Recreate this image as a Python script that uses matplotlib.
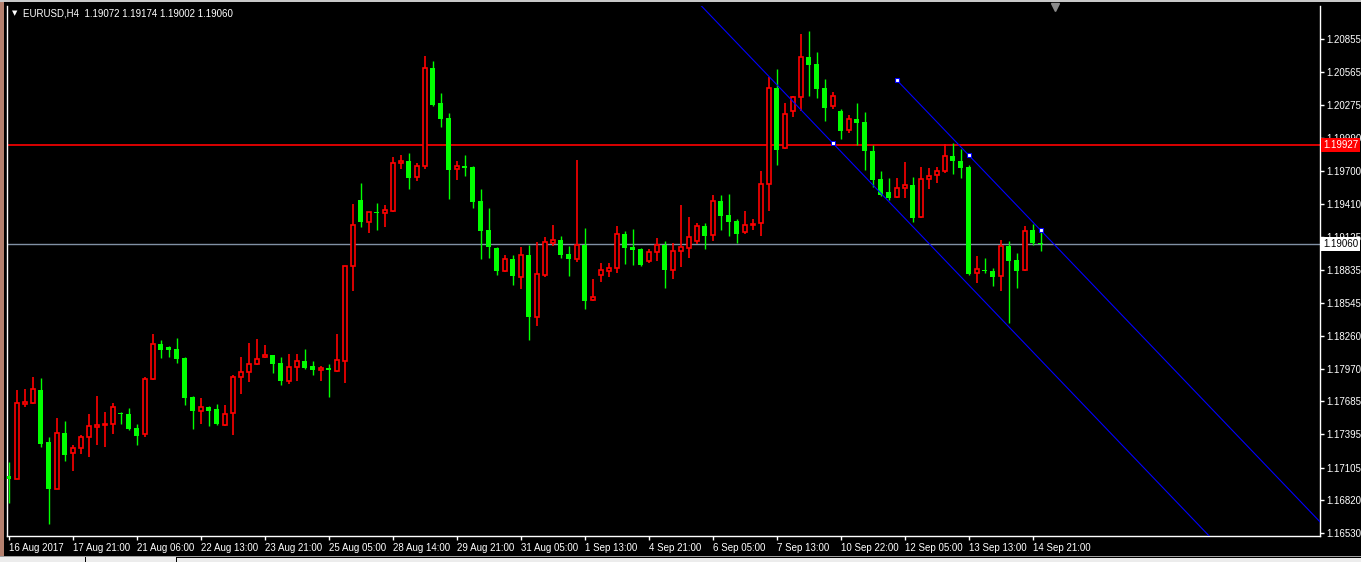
import numpy as np
import matplotlib.pyplot as plt
from matplotlib.patches import Rectangle

# EURUSD H4 candles (open, high, low, close)
opens = [1.17031, 1.17008, 1.17659, 1.17673, 1.17784, 1.17329, 1.16920, 1.17408, 1.17230, 1.17274,
         1.17370, 1.17463, 1.17475, 1.17484, 1.17583, 1.17574, 1.17449, 1.17396, 1.17877, 1.18184,
         1.18157, 1.18143, 1.18064, 1.17723, 1.17603, 1.17635, 1.17615, 1.17480, 1.17580, 1.17895,
         1.17939, 1.18009, 1.18070, 1.18087, 1.18020, 1.17865, 1.17982, 1.18037, 1.17994, 1.17959,
         1.17976, 1.17953, 1.18040, 1.18866, 1.19446, 1.19256, 1.19341, 1.19330, 1.19350, 1.19767,
         1.19788, 1.19645, 1.19741, 1.20599, 1.20295, 1.20161, 1.19720, 1.19741, 1.19735, 1.19437,
         1.19184, 1.19026, 1.18828, 1.18930, 1.18775, 1.18962, 1.18425, 1.18787, 1.19073, 1.19094,
         1.18971, 1.18927, 1.19053, 1.18569, 1.18787, 1.18828, 1.18849, 1.19149, 1.19035, 1.19017,
         1.18910, 1.18989, 1.19053, 1.18836, 1.18997, 1.19024, 1.19090, 1.19219, 1.19137, 1.19437,
         1.19315, 1.19262, 1.19166, 1.19225, 1.19242, 1.19584, 1.20426, 1.19899, 1.20222, 1.20345,
         1.20698, 1.20636, 1.20426, 1.20266, 1.20225, 1.20056, 1.20155, 1.20129, 1.19875, 1.19630,
         1.19516, 1.19470, 1.19549, 1.19577, 1.19295, 1.19627, 1.19662, 1.19697, 1.19831, 1.19788,
         1.19735, 1.18805, 1.18834, 1.18825, 1.18779, 1.19041, 1.18921, 1.18831, 1.19184, 1.19072]
highs = [1.17154, 1.17784, 1.17793, 1.17898, 1.17889, 1.17373, 1.17539, 1.17513, 1.17302, 1.17390,
         1.17574, 1.17731, 1.17591, 1.17670, 1.17594, 1.17626, 1.17486, 1.17898, 1.18274, 1.18221,
         1.18169, 1.18239, 1.18073, 1.17727, 1.17714, 1.17644, 1.17661, 1.17653, 1.17912, 1.18073,
         1.18195, 1.18230, 1.18177, 1.18090, 1.18073, 1.18099, 1.18099, 1.18143, 1.18037, 1.17994,
         1.18011, 1.18274, 1.18869, 1.19411, 1.19595, 1.19341, 1.19420, 1.19400, 1.19825, 1.19840,
         1.19855, 1.19767, 1.20706, 1.20663, 1.20383, 1.20205, 1.19785, 1.19837, 1.19741, 1.19540,
         1.19376, 1.19035, 1.18962, 1.18962, 1.19032, 1.19053, 1.19076, 1.19120, 1.19225, 1.19129,
         1.19044, 1.19796, 1.19201, 1.18755, 1.18892, 1.18892, 1.19219, 1.19172, 1.19190, 1.19026,
         1.19015, 1.19114, 1.19085, 1.19067, 1.19400, 1.19297, 1.19245, 1.19245, 1.19487, 1.19487,
         1.19499, 1.19277, 1.19350, 1.19280, 1.19700, 1.20522, 1.20592, 1.20295, 1.20356, 1.20899,
         1.20925, 1.20741, 1.20505, 1.20391, 1.20240, 1.20190, 1.20295, 1.20216, 1.19928, 1.19700,
         1.19639, 1.19639, 1.19779, 1.19647, 1.19735, 1.19726, 1.19735, 1.19934, 1.19945, 1.19893,
         1.19750, 1.18954, 1.18939, 1.18854, 1.19096, 1.19088, 1.18983, 1.19219, 1.19236, 1.19174]
lows = [1.16795, 1.17002, 1.17638, 1.17659, 1.17288, 1.16614, 1.16915, 1.17165, 1.17078, 1.17226,
        1.17200, 1.17305, 1.17288, 1.17401, 1.17489, 1.17434, 1.17305, 1.17370, 1.17871, 1.18066,
        1.18075, 1.18023, 1.17655, 1.17443, 1.17489, 1.17471, 1.17478, 1.17471, 1.17393, 1.17751,
        1.17856, 1.18005, 1.18066, 1.17935, 1.17830, 1.17836, 1.17865, 1.17970, 1.17915, 1.17865,
        1.17725, 1.17944, 1.17848, 1.18653, 1.19213, 1.19160, 1.19184, 1.19213, 1.19344, 1.19720,
        1.19545, 1.19615, 1.19715, 1.20269, 1.20088, 1.19458, 1.19624, 1.19659, 1.19379, 1.18933,
        1.18941, 1.18793, 1.18819, 1.18705, 1.18665, 1.18224, 1.18346, 1.18773, 1.19044, 1.18941,
        1.18784, 1.18906, 1.18495, 1.18563, 1.18731, 1.18773, 1.18810, 1.18889, 1.18878, 1.18873,
        1.18892, 1.18915, 1.18679, 1.18755, 1.18863, 1.18941, 1.19064, 1.19017, 1.19090, 1.19186,
        1.19134, 1.19070, 1.19151, 1.19186, 1.19134, 1.19350, 1.19755, 1.19893, 1.20175, 1.20228,
        1.20359, 1.20341, 1.20140, 1.20245, 1.19983, 1.20035, 1.19930, 1.19711, 1.19563, 1.19479,
        1.19449, 1.19464, 1.19466, 1.19256, 1.19289, 1.19540, 1.19592, 1.19680, 1.19676, 1.19641,
        1.18790, 1.18723, 1.18808, 1.18696, 1.18653, 1.18373, 1.18679, 1.18826, 1.19053, 1.19002]
closes = [1.17005, 1.17668, 1.17676, 1.17790, 1.17314, 1.16920, 1.17405, 1.17218, 1.17274, 1.17370,
          1.17466, 1.17475, 1.17486, 1.17632, 1.17571, 1.17443, 1.17384, 1.17877, 1.18184, 1.18136,
          1.18136, 1.18058, 1.17716, 1.17603, 1.17632, 1.17603, 1.17484, 1.17574, 1.17895, 1.17939,
          1.18009, 1.18052, 1.18087, 1.18014, 1.17865, 1.17982, 1.18035, 1.17979, 1.17961, 1.17976,
          1.17957, 1.18044, 1.18866, 1.19225, 1.19256, 1.19341, 1.19330, 1.19356, 1.19767, 1.19785,
          1.19641, 1.19744, 1.20599, 1.20278, 1.20158, 1.19711, 1.19741, 1.19729, 1.19431, 1.19178,
          1.19038, 1.18828, 1.18927, 1.18784, 1.18962, 1.18425, 1.18796, 1.19081, 1.19094, 1.18968,
          1.18933, 1.19050, 1.18565, 1.18600, 1.18831, 1.18849, 1.19146, 1.19029, 1.19011, 1.18880,
          1.18989, 1.19050, 1.18836, 1.18997, 1.19032, 1.19120, 1.19216, 1.19134, 1.19435, 1.19309,
          1.19256, 1.19151, 1.19225, 1.19236, 1.19586, 1.20426, 1.19886, 1.20196, 1.20345, 1.20695,
          1.20630, 1.20420, 1.20254, 1.20354, 1.20053, 1.20152, 1.20123, 1.19878, 1.19624, 1.19493,
          1.19466, 1.19549, 1.19575, 1.19291, 1.19627, 1.19656, 1.19697, 1.19829, 1.19785, 1.19729,
          1.18799, 1.18840, 1.18822, 1.18775, 1.19041, 1.18915, 1.18828, 1.19172, 1.19070, 1.19060]

price_ticks = [1.20855, 1.20565, 1.20275, 1.19990, 1.19700, 1.19410, 1.19125, 1.18835,
               1.18545, 1.18260, 1.17970, 1.17685, 1.17395, 1.17105, 1.16820, 1.16530]
time_ticks = [0, 8, 16, 24, 32, 40, 48, 56, 64, 72, 80, 88, 96, 104, 112, 120, 128]
time_labels = ['16 Aug 2017', '17 Aug 21:00', '21 Aug 06:00', '22 Aug 13:00', '23 Aug 21:00',
               '25 Aug 05:00', '28 Aug 14:00', '29 Aug 21:00', '31 Aug 05:00', '1 Sep 13:00',
               '4 Sep 21:00', '6 Sep 05:00', '7 Sep 13:00', '10 Sep 22:00', '12 Sep 05:00',
               '13 Sep 13:00', '14 Sep 21:00']

level_price = 1.19927
bid_price = 1.19060

# equidistant channel: base line through two points, parallel line shifted up
chan_bars = [103, 129]
chan_prices = [1.19945, 1.18045]
chan_shift = 0.01136
chan_upper_start = 111
upper_markers = [111, 120, 129]

W, H = 1361, 562
LW = 1.0
RED_LW = 1.2
FONT = ['Liberation Sans', 'DejaVu Sans']
plt.rcParams['font.family'] = FONT

fig = plt.figure(figsize=(W / 100, H / 100), dpi=100, facecolor='black')
ax = fig.add_axes([7 / W, 26 / H, 1313 / W, 530 / H])
ax.set_facecolor('black')

o = np.array(opens)
h = np.array(highs)
l = np.array(lows)
c = np.array(closes)
x = np.arange(len(o))
up = c >= o

# horizontal lines behind candles
ax.axhline(level_price, color='#ff0000', lw=RED_LW, zorder=1, snap=True)
ax.axhline(bid_price, color='#8090a4', lw=LW, zorder=1, snap=True)

# wicks
ax.vlines(x[up], l[up], h[up], color='#ff0000', lw=RED_LW, zorder=2, snap=True)
ax.vlines(x[~up], l[~up], h[~up], color='#00ff00', lw=LW, zorder=2, snap=True)

# bodies: bull = hollow red, bear = filled lime
lo = np.minimum(o, c)
ht = np.maximum(np.abs(c - o), 0.00009)
ax.bar(x[up], ht[up], bottom=lo[up], width=0.48, facecolor='black',
       edgecolor='#ff0000', linewidth=RED_LW, zorder=3, snap=True)
ax.bar(x[~up], ht[~up], bottom=lo[~up], width=0.62, color='#00ff00',
       linewidth=0, zorder=3, snap=True)

# channel
slope = (chan_prices[1] - chan_prices[0]) / (chan_bars[1] - chan_bars[0])
xb = np.array([70, 170])
ax.plot(xb, chan_prices[0] + slope * (xb - chan_bars[0]), color='#0000ff', lw=0.8, zorder=4)
xu = np.array([chan_upper_start, 170])
ax.plot(xu, chan_prices[0] + chan_shift + slope * (xu - chan_bars[0]),
        color='#0000ff', lw=0.8, zorder=4)
ax.plot([chan_bars[0]], [chan_prices[0]], 's', ms=3.5, mfc='white', mec='#0000ff', mew=0.7, zorder=5)
mu = np.array(upper_markers)
ax.plot(mu, chan_prices[0] + chan_shift + slope * (mu - chan_bars[0]), 's', ms=3.5,
        mfc='white', mec='#0000ff', mew=0.8, zorder=5)

ax.set_xlim(-0.2125, 163.91)
ax.set_ylim(1.16506, 1.21144)

# price scale on the right
ax.yaxis.tick_right()
ax.set_yticks(price_ticks)
ax.set_yticklabels([f'{p:.5f}' for p in price_ticks])
ax.tick_params(axis='y', colors='white', labelsize=7, length=3, width=LW, pad=1.5, direction='out')

# time scale
ax.set_xticks(time_ticks)
ax.set_xticklabels(time_labels)
for t in ax.get_xticklabels():
    t.set_horizontalalignment('left')
ax.tick_params(axis='x', colors='white', labelsize=7, length=3, width=LW, pad=2, direction='out')

for s in ax.spines.values():
    s.set_color('white')
    s.set_linewidth(LW)
ax.spines['top'].set_visible(False)

# price tags for the level and bid lines
ax.text(1 + 3 / 1313, level_price, f'{level_price:.5f}', transform=ax.get_yaxis_transform(),
        color='white', fontsize=7, va='center', ha='left', zorder=6, clip_on=False,
        bbox=dict(boxstyle='square,pad=0.22', fc='#ff0000', ec='none'))
ax.text(1 + 3 / 1313, bid_price, f'{bid_price:.5f}', transform=ax.get_yaxis_transform(),
        color='black', fontsize=7, va='center', ha='left', zorder=6, clip_on=False,
        bbox=dict(boxstyle='square,pad=0.22', fc='white', ec='none'))

# header
fig.text(12 / W, 1 - 13 / H, '\u25bc', color='white', fontsize=5, va='center',
         ha='left', family='DejaVu Sans')
fig.text(23 / W, 1 - 13 / H, 'EURUSD,H4  1.19072 1.19174 1.19002 1.19060', color='white',
         fontsize=7, va='center', ha='left')

# chart shift marker
fig.add_artist(plt.Line2D([1055 / W], [1 - 7 / H], marker='v', ms=6, color='#8a8a8a', lw=0))

# window frame bits
fig.add_artist(Rectangle((0, 0), 3.5 / W, 1, transform=fig.transFigure, color='#b4806e', lw=0))
fig.add_artist(Rectangle((0, 1 - 2 / H), 1, 2 / H, transform=fig.transFigure, color='#c8c8c8', lw=0))
fig.add_artist(Rectangle((0, 0), 1, 6 / H, transform=fig.transFigure, color='#ececec', lw=0))
fig.add_artist(plt.Line2D([0, 1], [6 / H, 6 / H], color='#a0a0a0', lw=0.72))
for xt in [85, 176]:
    fig.add_artist(plt.Line2D([xt / W, xt / W], [0, 5 / H], color='black', lw=0.72))
fig.add_artist(plt.Line2D([176 / W, 1], [5 / H, 5 / H], color='black', lw=0.72))

fig.savefig('out.png', dpi=100, facecolor='black')
